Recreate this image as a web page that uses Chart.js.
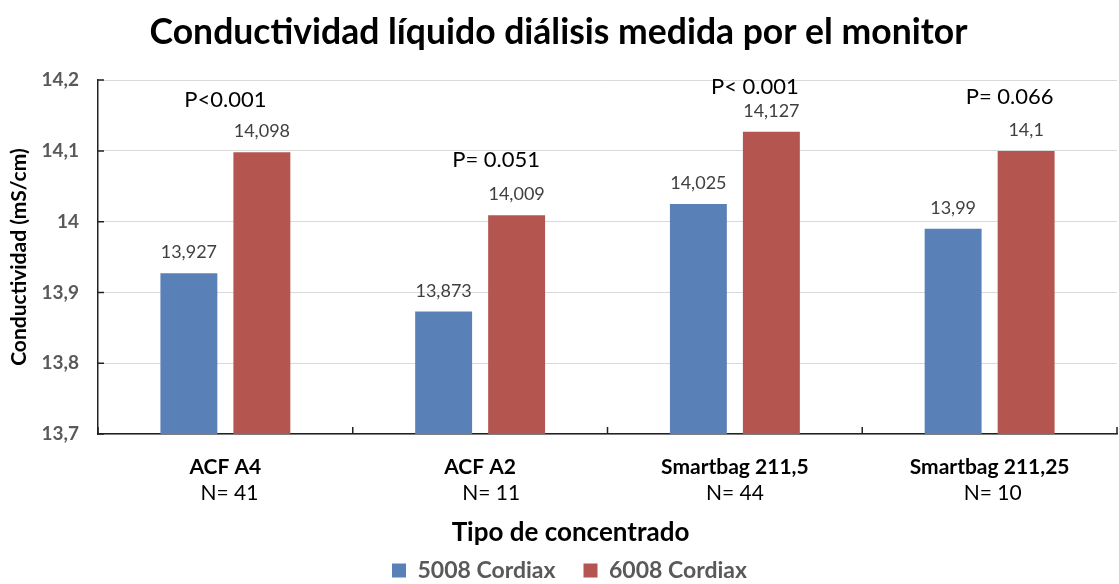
<!DOCTYPE html>
<html>
<head>
<meta charset="utf-8">
<script src="https://cdn.jsdelivr.net/npm/chart.js@4.4.1/dist/chart.umd.min.js"></script>
<style>
  html, body { margin: 0; padding: 0; background: #fff; }
</style>
</head>
<body>
<canvas id="chart" width="1119" height="584"></canvas>
<script>
  const categories = ["ACF A4", "ACF A2", "Smartbag 211,5", "Smartbag 211,25"];
  const sampleSizes = ["N= 41", "N= 11", "N= 44", "N= 10"];
  const cordiax5008 = [13.927, 13.873, 14.025, 13.99];
  const cordiax6008 = [14.098, 14.009, 14.127, 14.1];
  const pLabels = ["P<0.001", "P= 0.051", "P< 0.001", "P= 0.066"];
  const pLevels = [14.172, 14.087, 14.19, 14.176];
  const yTickLabels = ["13,7", "13,8", "13,9", "14", "14,1", "14,2"];

  const FONT = "Lato";
  const BLUE = "#5a80b8";
  const RED = "#b45550";

  // small nudges so the text sits where it does in the original
  const pShift = [0, 16, 20, 20];
  const nShift = [4, 11, 0, 3];

  const annotations = {
    id: "annotations",
    afterLayout(chart) {
      // legend sits a bit right of the canvas centre in the original
      chart.legend.left += 11;
      chart.legend.right += 11;
    },
    afterDatasetsDraw(chart) {
      const { ctx, scales: { x, y } } = chart;
      ctx.save();

      // short inside tick marks, Excel style
      ctx.strokeStyle = "#222";
      ctx.lineWidth = 1.5;
      ctx.beginPath();
      y.ticks.forEach((t) => {
        const py = y.getPixelForValue(t.value);
        ctx.moveTo(x.left, py);
        ctx.lineTo(x.left + 6, py);
      });
      for (let i = 0; i <= categories.length; i++) {
        const px = x.getPixelForValue(i - 0.5);
        ctx.moveTo(px, y.bottom);
        ctx.lineTo(px, y.bottom - 7);
      }
      ctx.stroke();

      // value labels above the bars
      ctx.font = `18px ${FONT}`;
      ctx.fillStyle = "#404040";
      ctx.textAlign = "center";
      ctx.textBaseline = "alphabetic";
      chart.data.datasets.forEach((ds, di) => {
        chart.getDatasetMeta(di).data.forEach((bar, i) => {
          const txt = String(ds.data[i]).replace(".", ",");
          ctx.fillText(txt, bar.x, bar.y - 15);
        });
      });

      // p values
      ctx.font = `22px ${FONT}`;
      ctx.fillStyle = "#000";
      ctx.textBaseline = "middle";
      pLabels.forEach((p, i) => {
        ctx.fillText(p, x.getPixelForValue(i) + pShift[i], y.getPixelForValue(pLevels[i]));
      });

      // category labels (two lines, bold + normal)
      categories.forEach((c, i) => {
        const cx = x.getPixelForValue(i);
        ctx.font = `bold 21px ${FONT}`;
        ctx.fillText(c, cx, 467);
        ctx.font = `21px ${FONT}`;
        ctx.fillText(sampleSizes[i], cx + nShift[i], 493);
      });

      // x axis title
      ctx.font = `bold 26px ${FONT}`;
      ctx.fillText("Tipo de concentrado", chart.width / 2 + 11, 533);

      ctx.restore();
    },
  };

  const ctx = document.getElementById("chart").getContext("2d");
  new Chart(ctx, {
    type: "bar",
    data: {
      labels: categories,
      datasets: [
        {
          label: "5008 Cordiax",
          data: cordiax5008,
          backgroundColor: BLUE,
          borderWidth: 0,
          categoryPercentage: 0.573,
          barPercentage: 0.78,
        },
        {
          label: "6008 Cordiax",
          data: cordiax6008,
          backgroundColor: RED,
          borderWidth: 0,
          categoryPercentage: 0.573,
          barPercentage: 0.78,
        },
      ],
    },
    options: {
      responsive: false,
      animation: false,
      layout: { padding: { left: 0, right: 2, top: 0, bottom: -8 } },
      plugins: {
        title: {
          display: true,
          text: "Conductividad líquido diálisis medida por el monitor",
          color: "#000",
          font: { family: FONT, size: 35.5, weight: "bold" },
          padding: { top: 11, bottom: 26.5 },
        },
        legend: {
          position: "bottom",
          labels: {
            color: "#595959",
            font: { family: FONT, size: 23, weight: "bold" },
            boxWidth: 14,
            boxHeight: 14,
            padding: 28,
          },
        },
        tooltip: { enabled: false },
      },
      scales: {
        x: {
          grid: { display: false },
          border: { display: true, color: "#222", width: 1.5 },
          ticks: { display: false },
          afterFit(scale) {
            scale.height = 97;
          },
        },
        y: {
          min: 13.7,
          max: 14.2,
          grid: { color: "#d9d9d9", lineWidth: 1, drawTicks: false },
          border: { display: true, color: "#222", width: 1.5 },
          ticks: {
            stepSize: 0.1,
            padding: 19,
            color: "#595959",
            font: { family: FONT, size: 19, weight: "bold" },
            callback: (value, index) => yTickLabels[index],
          },
          title: {
            display: true,
            text: "Conductividad (mS/cm)",
            color: "#000",
            font: { family: FONT, size: 21, weight: "bold" },
            padding: { top: 7, bottom: 0 },
          },
          afterFit(scale) {
            scale.width = 98;
          },
        },
      },
    },
    plugins: [annotations],
  });
</script>
</body>
</html>
